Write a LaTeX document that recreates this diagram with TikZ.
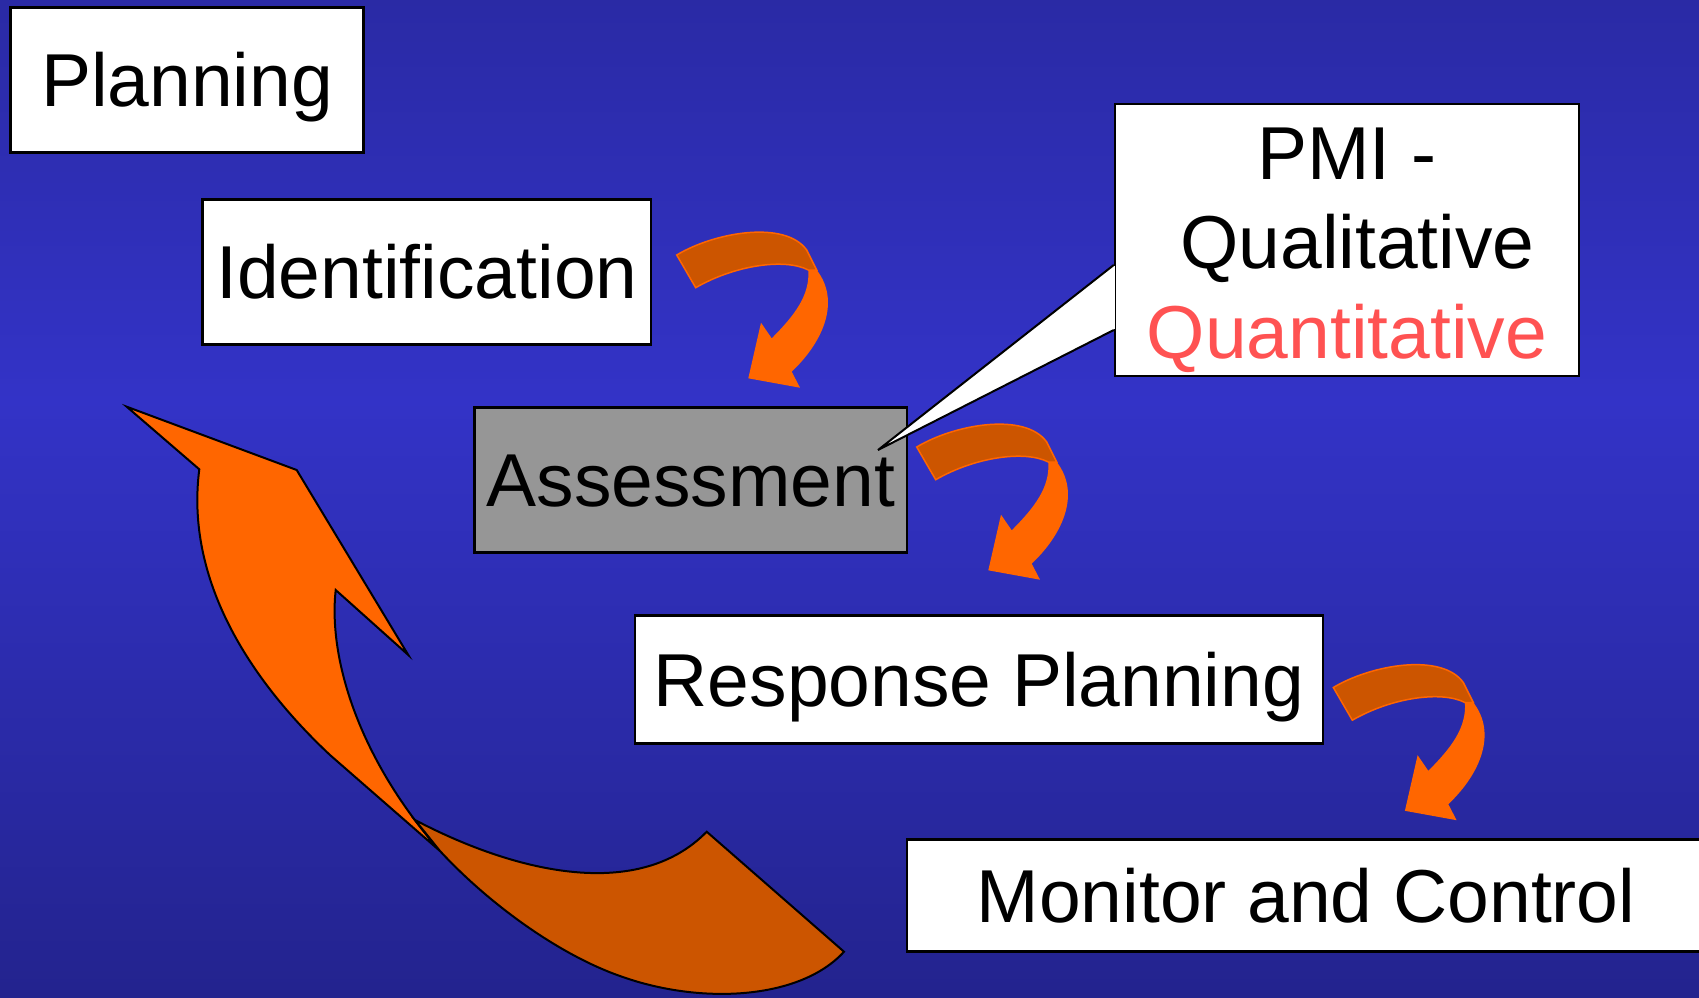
\documentclass[tikz,border=0pt]{standalone}
\usepackage{fontspec}
\setmainfont{Liberation Sans}
\usetikzlibrary{calc}
\definecolor{bgtop}{RGB}{42,42,165}
\definecolor{bgmid}{RGB}{51,51,199}
\definecolor{bgbot}{RGB}{35,35,142}
\definecolor{orng}{RGB}{255,102,0}
\definecolor{ribdark}{RGB}{204,85,0}
\definecolor{boxgray}{RGB}{150,150,150}
\definecolor{qred}{RGB}{255,82,82}
\begin{document}
\begin{tikzpicture}[x=1pt,y=-1pt,
  label font/.style={font=\fontsize{75}{89.5}\selectfont},
  stage/.style={draw=black, line width=2.5, fill=white, inner sep=0pt,
    label font, text height=53.7pt, text depth=0pt},
  outline/.style={draw=black, line width=2},
  bend arrow/.pic={
    % back face of the twisted ribbon
    \path[fill=ribdark, draw=orng, line width=1.5]
      (16.7,35) .. controls (55,12) and (125,0) .. (146.7,30) -- (156.7,50)
      -- (148.3,50) .. controls (125,38) and (75,45) .. (35.7,67.7) -- cycle;
    % front face: shaft and head
    \fill[orng] (148.3,50) -- (156.7,50)
      .. controls (180,80) and (165,120) .. (131.7,151.7)
      -- (140,167.7) -- (88.3,158.3) -- (101,102.7) -- (111.7,118.3)
      .. controls (135,95) and (150,75) .. (148.3,50) -- cycle;
  }]

% canvas
\clip (0,0) rectangle (1699,997);
\shade[top color=bgtop, bottom color=bgmid] (0,0) rectangle (1699,401);
\shade[top color=bgmid, bottom color=bgbot] (0,400) rectangle (1699,997);

% process stages
\node[stage, minimum width=352.6, minimum height=145.4] (plan) at (187,80) {Planning};
\node[stage, minimum width=448.6, minimum height=145.2] (ident) at (426.9,272) {Identification};
\node[stage, fill=boxgray, minimum width=432.3, minimum height=145.2] (assess) at (690.8,480) {Assessment};
\node[stage, minimum width=688, minimum height=128] (resp) at (979,679.4) {Response Planning};
\node[stage, minimum width=798, minimum height=111.6] (mon) at (1306,895.5) {Monitor and Control};

% large return arrow: front face with head
\path[outline, fill=orng, line join=miter]
  (126.7,406.7) -- (296.7,470) -- (408.3,655) -- (335.7,590)
  .. controls (328,660) and (360,760) .. (440,851)
  -- (330,755) .. controls (250,680) and (185,580) .. (199.3,469.3) -- cycle;
% large return arrow: twisted tail
\path[outline, fill=ribdark, line join=miter]
  (415,820) .. controls (520,875) and (640,900) .. (706.7,831.7)
  -- (844,951.7) .. controls (800,1000) and (700,1005) .. (620,976)
  .. controls (560,955) and (490,905) .. (440,851) -- cycle;

% step arrows between stages
\pic at (660,220) {bend arrow};
\pic at (900,412) {bend arrow};
\pic at (1316.6,652.5) {bend arrow};

% callout on the assessment stage
\node[stage, text height=, text depth=, align=center, minimum width=464, minimum height=272] (pmi) at (1347,240)
  {\rule{0pt}{72pt}PMI -\\\kern0.28em Qualitative\\\textcolor{qred}{Quantitative}};
\coordinate (ptip) at (878,450);
\fill[white] ($(pmi.west)+(0,25)$) -- (ptip) -- ($(pmi.west)+(0,90)$) -- cycle;
\fill[white] ($(pmi.west)+(-1.5,26)$) rectangle ($(pmi.west)+(1.5,89)$);
\draw[line width=2] ($(pmi.west)+(0,25)$) -- (ptip) -- ($(pmi.west)+(0,90)$);
\end{tikzpicture}
\end{document}
